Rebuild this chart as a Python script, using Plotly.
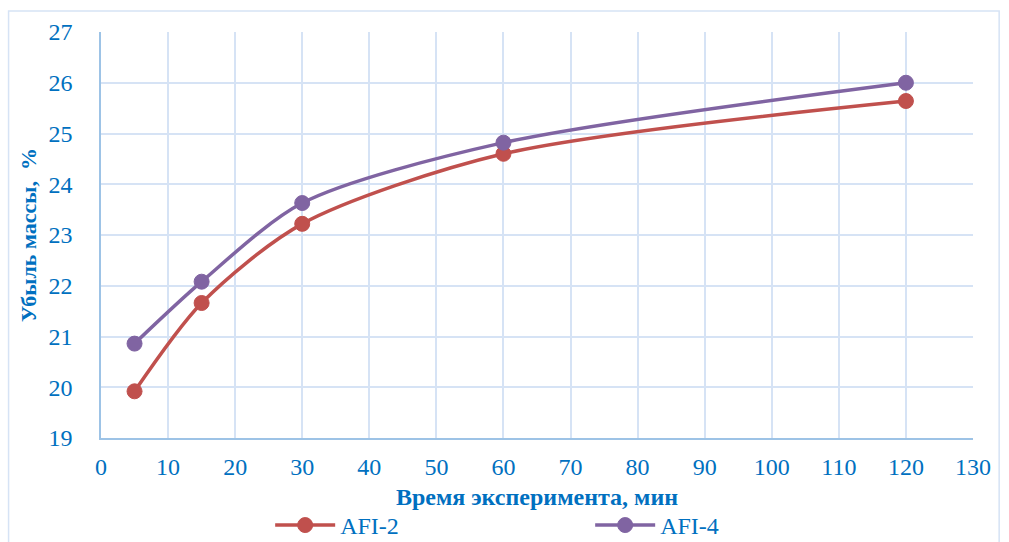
import plotly.graph_objects as go

# Время эксперимента, мин
time_min = [5, 15, 30, 60, 120]
# Убыль массы, %
afi2 = [19.92, 21.66, 23.22, 24.60, 25.64]
afi4 = [20.86, 22.08, 23.63, 24.82, 26.00]

series_names = ["AFI-2", "AFI-4"]
series_colors = ["#C0504D", "#8064A2"]

x_ticks = list(range(0, 131, 10))
y_ticks = list(range(19, 28, 1))

FONT = "Times New Roman, Liberation Serif, DejaVu Serif, serif"
TEXT_COLOR = "#0070C0"
GRID_COLOR = "#D6E3F5"
AXIS_COLOR = "#9DC3E6"

fig = go.Figure()
for name, vals, color in zip(series_names, [afi2, afi4], series_colors):
    fig.add_trace(go.Scatter(
        x=time_min, y=vals, name=name,
        mode="lines+markers",
        line=dict(color=color, width=3.5, shape="spline", smoothing=0.8),
        marker=dict(color=color, size=15, line=dict(color=color, width=1)),
    ))

fig.update_layout(
    width=1009, height=542,
    margin=dict(l=101, r=36, t=32, b=104, autoexpand=False),
    paper_bgcolor="white", plot_bgcolor="white",
    font=dict(family=FONT, color=TEXT_COLOR, size=24),
    showlegend=True,
    legend=dict(
        orientation="h", x=0.194, xanchor="left", y=-0.16, yanchor="top",
        font=dict(size=24, color=TEXT_COLOR, family=FONT),
        entrywidth=245, itemwidth=60, bgcolor="rgba(0,0,0,0)",
    ),
    shapes=[dict(
        type="rect", xref="paper", yref="paper",
        x0=-0.106, x1=1.03, y0=-0.5, y1=1.052,
        line=dict(color="#D6E3F5", width=1.5), fillcolor="rgba(0,0,0,0)",
        layer="below",
    )],
)

fig.update_xaxes(
    range=[0, 130], tickvals=x_ticks, ticktext=[str(v) for v in x_ticks],
    showgrid=True, gridcolor=GRID_COLOR, gridwidth=1.5,
    showline=True, linecolor=AXIS_COLOR, linewidth=1.5, mirror=False,
    zeroline=False, ticks="", ticklabelstandoff=6,
    tickfont=dict(size=24, color=TEXT_COLOR, family=FONT),
    title=dict(text="<b>Время эксперимента, мин</b>", standoff=10,
               font=dict(size=24, color=TEXT_COLOR, family=FONT)),
)
fig.update_yaxes(
    range=[19, 27], tickvals=y_ticks, ticktext=[str(v) for v in y_ticks],
    showgrid=True, gridcolor=GRID_COLOR, gridwidth=1.5,
    showline=True, linecolor=AXIS_COLOR, linewidth=1.5,
    zeroline=False, ticks="", ticklabelstandoff=22,
    tickfont=dict(size=24, color=TEXT_COLOR, family=FONT),
    title=dict(text="<b>Убыль массы,  %</b>", standoff=6,
               font=dict(size=22, color=TEXT_COLOR, family=FONT)),
)

fig.write_html("out.html")
